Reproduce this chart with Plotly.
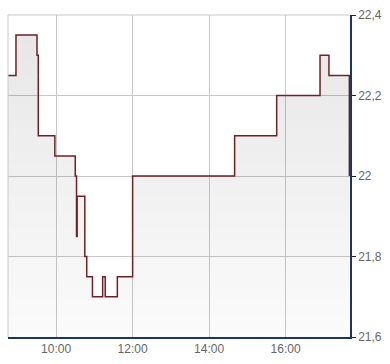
import plotly.graph_objects as go

day = "2024-01-02 "
times = ["08:44:30", "08:57", "09:30", "09:32", "09:58", "10:30", "10:32", "10:33",
         "10:45", "10:48", "10:57", "11:13", "11:17", "11:36", "12:00", "14:40",
         "15:46", "16:54", "17:08", "17:40"]
prices = [22.25, 22.35, 22.30, 22.10, 22.05, 22.00, 21.85, 21.95,
          21.80, 21.75, 21.70, 21.75, 21.70, 21.75, 22.00, 22.10,
          22.20, 22.30, 22.25, 22.00]
x = [day + t for t in times]
y_min, y_max = 21.6, 22.4
x_range = [day + "08:44:30", day + "17:41:00"]
y_ticks = [21.6, 21.8, 22.0, 22.2, 22.4]
x_ticks = [day + "10:00", day + "12:00", day + "14:00", day + "16:00"]
x_labels = ["10:00", "12:00", "14:00", "16:00"]

fig = go.Figure()
fig.add_trace(go.Scatter(x=[x[0], x[-1]], y=[y_min, y_min], mode="lines",
                         line=dict(width=0), hoverinfo="skip", showlegend=False))
fig.add_trace(go.Scatter(
    x=x, y=prices, mode="lines", line=dict(shape="hv", color="#6e2128", width=1.5),
    fill="tonexty",
    fillgradient=dict(type="vertical", start=y_min, stop=y_max,
                      colorscale=[[0, "rgba(0,0,0,0.015)"], [1, "rgba(0,0,0,0.10)"]]),
    showlegend=False))

font = dict(family="Liberation Sans, Arial, sans-serif", size=12, color="#666666")
fig.update_layout(
    width=390, height=364, margin=dict(l=8, r=38, t=11, b=24),
    paper_bgcolor="white", plot_bgcolor="white", separators=",.",
    font=font, showlegend=False,
    xaxis=dict(range=x_range, tickvals=x_ticks, ticktext=x_labels,
               showgrid=True, gridcolor="#c8c8c8", gridwidth=1,
               showline=True, linecolor="#1c3662", linewidth=1.5,
               ticks="", zeroline=False, fixedrange=True),
    yaxis=dict(range=[y_min, y_max], tickvals=y_ticks, side="right",
               showgrid=True, gridcolor="#c8c8c8", gridwidth=1,
               showline=True, linecolor="#1c3662", linewidth=1.5,
               ticks="outside", ticklen=4, tickcolor="#222222",
               zeroline=False, fixedrange=True),
    shapes=[
        dict(type="line", xref="paper", yref="paper", x0=0, x1=0, y0=0, y1=1,
             line=dict(color="#c8c8c8", width=1)),
        dict(type="line", xref="paper", yref="paper", x0=0, x1=1, y0=1, y1=1,
             line=dict(color="#c8c8c8", width=1)),
    ],
)
fig.write_html("out.html")
